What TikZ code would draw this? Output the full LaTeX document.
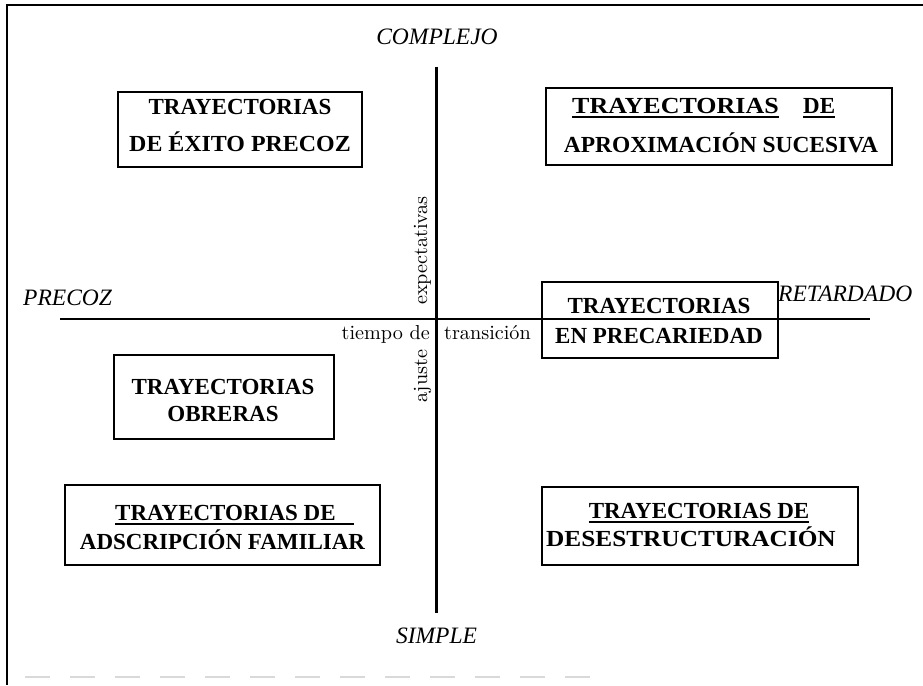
\documentclass[tikz,border=0pt]{standalone}
\usepackage{fontspec}
\usepackage{graphicx}
\usetikzlibrary{calc}
\newfontfamily\libser{Liberation Serif}
\newcommand\smlbl[1]{\scalebox{2.02}{\fontsize{10}{12}\selectfont #1}}
\newcommand\xsc[2]{\scalebox{#1}[1]{#2}}
\tikzset{
  frameline/.style={line width=1.4pt},
  faintline/.style={gray!30, line width=1.5pt, dash pattern=on 25pt off 20pt},
  axisline/.style={line width=2.3pt},
  tbox/.style={draw, line width=1.3pt, inner sep=0pt, fill=none},
  btxt/.style={font=\libser\bfseries\fontsize{23}{27}\selectfont, inner sep=0pt, anchor=base},
  itxt/.style={font=\libser\itshape\fontsize{23.5}{28}\selectfont, inner sep=0pt},
  stxt/.style={inner sep=0pt},
  uline/.style={line width=1.6pt},
}
\begin{document}
\begin{tikzpicture}[x=1pt,y=-1pt]
\useasboundingbox (0,0) rectangle (923,685);

% frame
\coordinate (f1) at (7,685);
\coordinate (f2) at (7,5);
\coordinate (f3) at (923,5);
\draw[frameline] (f1) -- (f2) -- (f3);
\coordinate (fb1) at (25,677);
\coordinate (fb2) at (600,677);
\draw[faintline] (fb1) -- (fb2);

% boxes
\node[tbox, minimum width=244pt, minimum height=75pt] (b1) at (240,129.5) {};
\node[btxt] (b1a) at (240,114) {TRAYECTORIAS};
\node[btxt] (b1b) at (240,151) {\xsc{1.04}{DE ÉXITO PRECOZ}};

\node[tbox, minimum width=346pt, minimum height=77pt] (b2) at (719,126.5) {};
\node[btxt, anchor=base west] (b2a) at (572,113) {\xsc{1.13}{TRAYECTORIAS}};
\node[btxt, anchor=base west] (b2b) at (803,113) {DE};
\node[btxt] (b2c) at (721,152) {\xsc{1.02}{APROXIMACIÓN SUCESIVA}};
\draw[uline] ($(b2a.base west)+(0,4)$) -- ($(b2a.base east)+(0,4)$);
\draw[uline] ($(b2b.base west)+(0,4)$) -- ($(b2b.base east)+(0,4)$);

\node[tbox, minimum width=236pt, minimum height=76pt] (b3) at (660,320) {};
\node[btxt] (b3a) at (659,313) {TRAYECTORIAS};
\node[btxt] (b3b) at (659,343) {EN PRECARIEDAD};

\node[tbox, minimum width=220pt, minimum height=84pt] (b4) at (224,397) {};
\node[btxt] (b4a) at (223,394) {TRAYECTORIAS};
\node[btxt] (b4b) at (223,421) {OBRERAS};

\node[tbox, minimum width=315pt, minimum height=80pt] (b5) at (222.5,525) {};
\node[btxt, anchor=base west] (b5a) at (115,520) {TRAYECTORIAS DE};
\node[btxt] (b5b) at (222.5,549) {ADSCRIPCIÓN FAMILIAR};
\draw[uline] ($(b5a.base west)+(0,4)$) -- ($(b5a.base east)+(18,4)$);

\node[tbox, minimum width=316pt, minimum height=78pt] (b6) at (700,526) {};
\node[btxt] (b6a) at (699,518) {TRAYECTORIAS DE};
\node[btxt] (b6b) at (691,546) {\xsc{1.1}{DESESTRUCTURACIÓN}};
\draw[uline] ($(b6a.base west)+(0,4)$) -- ($(b6a.base east)+(0,4)$);

% axes
\coordinate (vt) at (436.5,67);
\coordinate (vb) at (436.5,613);
\coordinate (hl) at (60,319);
\coordinate (hr) at (870,319);
\draw[axisline] (vt) -- (vb);
\draw[axisline] (hl) -- (hr);

% axis labels
\node[itxt, anchor=base] (complejo) at (437,45) {COMPLEJO};
\node[itxt, anchor=base] (simple) at (436.5,643) {SIMPLE};
\node[itxt, anchor=base west] (precoz) at (23,305) {PRECOZ};
\node[itxt, anchor=base west] (retardado) at (778,301) {RETARDADO};

\node[stxt, anchor=base east] (tiempo) at (430,339) {\smlbl{tiempo de}};
\node[stxt, anchor=base west] (trans) at (444,339) {\smlbl{transición}};
\node[stxt, rotate=90, anchor=base west] (expect) at (427,305) {\smlbl{expectativas}};
\node[stxt, rotate=90, anchor=base west] (ajuste) at (427,403) {\smlbl{ajuste}};
\end{tikzpicture}
\end{document}
